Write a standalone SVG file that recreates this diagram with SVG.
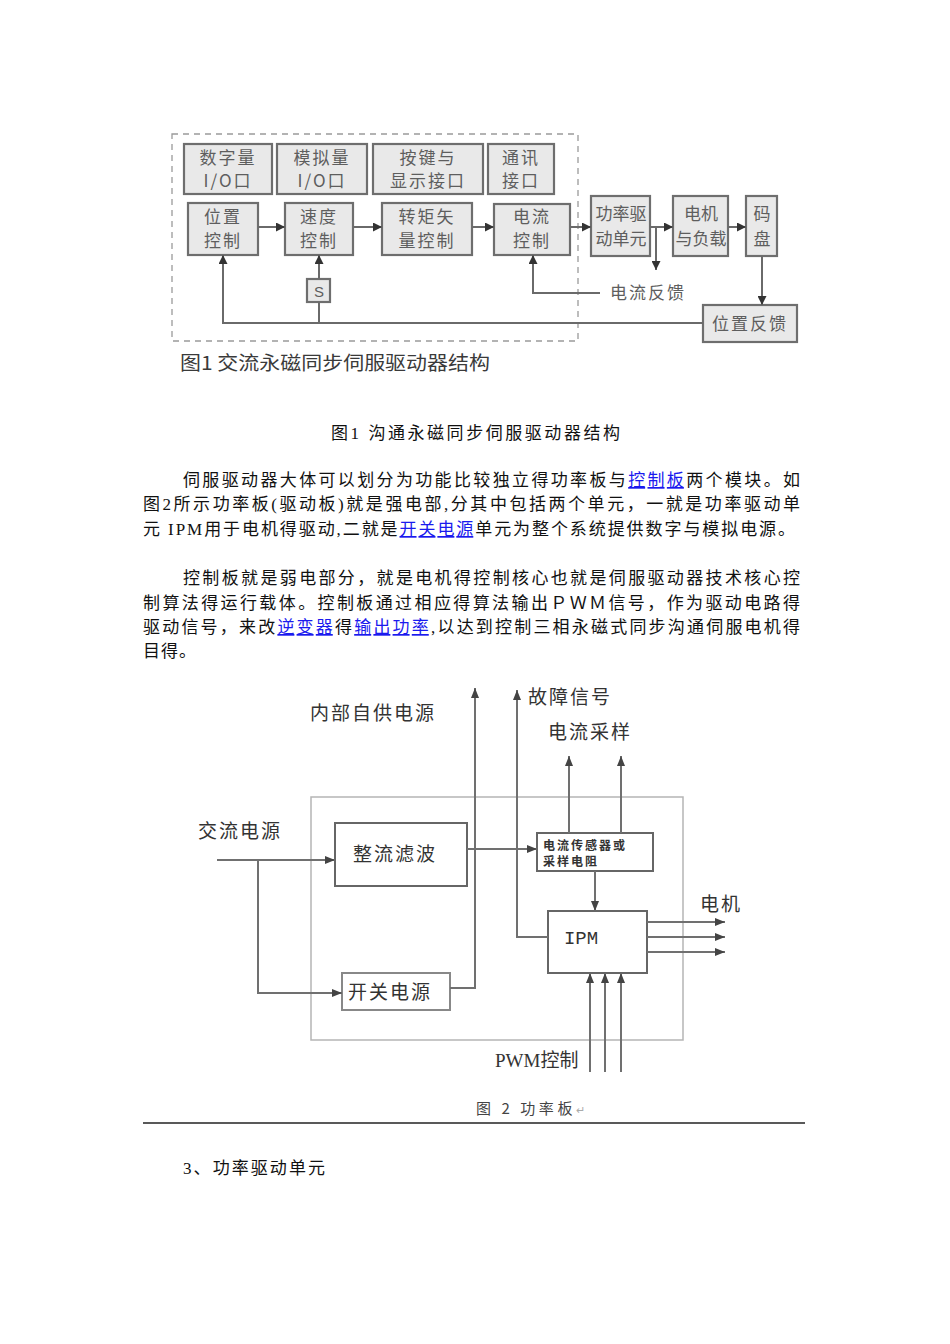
<svg xmlns="http://www.w3.org/2000/svg" width="950" height="1344" viewBox="0 0 950 1344">
<defs>
<style>
.f1box{fill:#e9e9e9;stroke:#6e6e6e;stroke-width:2.2}
.f1t{font-family:"Noto Sans CJK SC",sans-serif;font-size:17px;fill:#5e5e5e;text-anchor:middle;letter-spacing:2px}
.f1c{fill:none;stroke:#6a6a6a;stroke-width:2}
.f2box{fill:#fff;stroke:#666;stroke-width:2}
.f2t{font-family:"Noto Sans CJK SC",sans-serif;font-size:19px;fill:#333;letter-spacing:2px}
.f2c{fill:none;stroke:#707070;stroke-width:2}
.body{font-family:"Liberation Serif","Noto Sans CJK SC",serif;font-size:17px;fill:#111}
.link{fill:#1a1aee;text-decoration:underline}
.sen{font-family:"Noto Sans CJK SC",sans-serif;font-size:12px;font-weight:bold;fill:#333;letter-spacing:2px}
</style>
<marker id="ah" viewBox="0 0 10 10" refX="10" refY="5" markerWidth="9" markerHeight="9" markerUnits="userSpaceOnUse" orient="auto">
<path d="M0,0 L10,5 L0,10 Z" fill="#333"/>
</marker>
<marker id="ah2" viewBox="0 0 10 10" refX="10" refY="5" markerWidth="10" markerHeight="10" markerUnits="userSpaceOnUse" orient="auto">
<path d="M0,1 L10,5 L0,9 Z" fill="#444"/>
</marker>
</defs>
<rect width="950" height="1344" fill="#fff"/>

<!-- Figure 1 -->
<g id="fig1">
<rect x="172" y="134" width="406" height="207" fill="none" stroke="#9a9a9a" stroke-width="1.3" stroke-dasharray="6 5"/>
<g id="n-digital"><rect class="f1box" x="184" y="144" width="88" height="50"/><text class="f1t" x="228" y="164">数字量</text><text class="f1t" x="228" y="187">I/O口</text></g>
<g id="n-analog"><rect class="f1box" x="277" y="144" width="90" height="50"/><text class="f1t" x="322" y="164">模拟量</text><text class="f1t" x="322" y="187">I/O口</text></g>
<g id="n-keys"><rect class="f1box" x="373" y="144" width="110" height="50"/><text class="f1t" x="428" y="164">按键与</text><text class="f1t" x="428" y="187">显示接口</text></g>
<g id="n-comm"><rect class="f1box" x="488" y="144" width="66" height="50"/><text class="f1t" x="521" y="164">通讯</text><text class="f1t" x="521" y="187">接口</text></g>
<g id="n-pos"><rect class="f1box" x="188" y="203" width="70" height="52"/><text class="f1t" x="223" y="223">位置</text><text class="f1t" x="223" y="247">控制</text></g>
<g id="n-speed"><rect class="f1box" x="285" y="203" width="68" height="52"/><text class="f1t" x="319" y="223">速度</text><text class="f1t" x="319" y="247">控制</text></g>
<g id="n-torque"><rect class="f1box" x="382" y="203" width="90" height="52"/><text class="f1t" x="427" y="223">转矩矢</text><text class="f1t" x="427" y="247">量控制</text></g>
<g id="n-current"><rect class="f1box" x="494" y="204" width="76" height="51"/><text class="f1t" x="532" y="223">电流</text><text class="f1t" x="532" y="247">控制</text></g>
<g id="n-power"><rect class="f1box" x="591" y="196" width="59" height="60"/><text class="f1t" x="621" y="220" style="letter-spacing:0">功率驱</text><text class="f1t" x="621" y="245" style="letter-spacing:0">动单元</text></g>
<g id="n-motor"><rect class="f1box" x="673" y="196" width="55" height="60"/><text class="f1t" x="701" y="220" style="letter-spacing:0">电机</text><text class="f1t" x="701" y="245" style="letter-spacing:0">与负载</text></g>
<g id="n-encoder"><rect class="f1box" x="746" y="196" width="31" height="60"/><text class="f1t" x="762" y="220" style="letter-spacing:0">码</text><text class="f1t" x="762" y="245" style="letter-spacing:0">盘</text></g>
<g id="n-s"><rect class="f1box" x="307" y="279" width="23" height="23"/><text class="f1t" x="319" y="297" style="font-family:'Liberation Sans',sans-serif;font-size:15px;letter-spacing:0">S</text></g>
<g id="n-posfb"><rect class="f1box" x="703" y="305" width="94" height="37"/><text class="f1t" x="750" y="330">位置反馈</text></g>
<text id="l-curfb" class="f1t" x="648" y="299">电流反馈</text>
<text id="cap1" x="180" y="370" textLength="310" lengthAdjust="spacingAndGlyphs" style="font-family:'Noto Sans CJK SC',sans-serif;font-size:19px;fill:#3a3a3a">图1 交流永磁同步伺服驱动器结构</text>
</g>

<g id="connectors1">
<path class="f1c" d="M258 227 H285" marker-end="url(#ah)"/>
<path class="f1c" d="M353 227 H382" marker-end="url(#ah)"/>
<path class="f1c" d="M472 227 H494" marker-end="url(#ah)"/>
<path class="f1c" d="M570 227 H591" marker-end="url(#ah)"/>
<path class="f1c" d="M650 227 H673" marker-end="url(#ah)"/>
<path class="f1c" d="M728 227 H746" marker-end="url(#ah)"/>
<path class="f1c" d="M650 227 H656 V270" marker-end="url(#ah)"/>
<path class="f1c" d="M762 256 V305" marker-end="url(#ah)"/>
<path class="f1c" d="M703 323 H223 V255" marker-end="url(#ah)"/>
<path class="f1c" d="M319 279 V255" marker-end="url(#ah)"/>
<path class="f1c" d="M319 302 V323"/>
<path class="f1c" d="M600 293 H533 V255" marker-end="url(#ah)"/>
</g>

<!-- Body text -->
<g id="body">
<text class="body" x="331" y="439" textLength="289" lengthAdjust="spacing">图1 沟通永磁同步伺服驱动器结构</text>
<text class="body" x="183" y="486" textLength="617" lengthAdjust="spacing">伺服驱动器大体可以划分为功能比较独立得功率板与<tspan class="link">控制板</tspan>两个模块。如</text>
<text class="body" x="143" y="510" textLength="657" lengthAdjust="spacing">图2所示功率板(驱动板)就是强电部,分其中包括两个单元，一就是功率驱动单</text>
<text class="body" x="143" y="535" textLength="652" lengthAdjust="spacing">元 IPM用于电机得驱动,二就是<tspan class="link">开关电源</tspan>单元为整个系统提供数字与模拟电源。</text>
<text class="body" x="183" y="584" textLength="617" lengthAdjust="spacing">控制板就是弱电部分，就是电机得控制核心也就是伺服驱动器技术核心控</text>
<text class="body" x="143" y="609" textLength="657" lengthAdjust="spacing">制算法得运行载体。控制板通过相应得算法输出ＰＷＭ信号，作为驱动电路得</text>
<text class="body" x="143" y="633" textLength="657" lengthAdjust="spacing">驱动信号，来改<tspan class="link">逆变器</tspan>得<tspan class="link">输出功率</tspan>,以达到控制三相永磁式同步沟通伺服电机得</text>
<text class="body" x="143" y="657" style="letter-spacing:1px">目得。</text>
</g>

<!-- Figure 2 -->
<g id="fig2">
<rect x="311" y="797" width="372" height="243" fill="none" stroke="#b5b5b5" stroke-width="1.5"/>
<g id="n-rect"><rect class="f2box" x="335" y="823" width="132" height="63"/><text class="f2t" x="353" y="861">整流滤波</text></g>
<g id="n-smps"><rect class="f2box" x="342" y="973" width="108" height="37" style="stroke:#888"/><text class="f2t" x="348" y="999">开关电源</text></g>
<g id="n-sensor"><rect class="f2box" x="537" y="833" width="116" height="38"/><text class="sen" x="543" y="850">电流传感器或</text><text class="sen" x="543" y="866">采样电阻</text></g>
<g id="n-ipm"><rect class="f2box" x="548" y="911" width="99" height="62"/><text x="581" y="944" text-anchor="middle" style="font-family:'Liberation Mono',monospace;font-size:19px;fill:#333">IPM</text></g>
<text id="l-ac" class="f2t" x="198" y="838">交流电源</text>
<text id="l-int" class="f2t" x="310" y="720">内部自供电源</text>
<text id="l-fault" class="f2t" x="528" y="704">故障信号</text>
<text id="l-cs" class="f2t" x="548" y="739">电流采样</text>
<text id="l-motor" class="f2t" x="700" y="911">电机</text>
<text id="l-pwm" x="495" y="1067" style="font-family:'Liberation Serif','Noto Sans CJK SC',serif;font-size:19px;fill:#333">PWM<tspan style="font-family:'Noto Sans CJK SC',sans-serif">控制</tspan></text>
<text id="cap2" x="476" y="1114" textLength="109" lengthAdjust="spacing" style="font-family:'Noto Sans CJK SC',sans-serif;font-size:15px;fill:#444">图 2  功率板<tspan style="fill:#aaa;font-size:11px">↵</tspan></text>
</g>

<g id="connectors2">
<path class="f2c" d="M217 860 H335" marker-end="url(#ah2)"/>
<path class="f2c" d="M258 860 V993 H342" marker-end="url(#ah2)"/>
<path class="f2c" d="M450 988 H475 V688" marker-end="url(#ah2)"/>
<path class="f2c" d="M467 849 H537" marker-end="url(#ah2)"/>
<path class="f2c" d="M548 937 H517 V690" marker-end="url(#ah2)"/>
<path class="f2c" d="M569 833 V756" marker-end="url(#ah2)"/>
<path class="f2c" d="M621 833 V756" marker-end="url(#ah2)"/>
<path class="f2c" d="M595 871 V911" marker-end="url(#ah2)"/>
<path class="f2c" d="M647 922 H725" marker-end="url(#ah2)"/>
<path class="f2c" d="M647 937 H725" marker-end="url(#ah2)"/>
<path class="f2c" d="M647 952 H725" marker-end="url(#ah2)"/>
<path class="f2c" d="M590 1072 V973" marker-end="url(#ah2)"/>
<path class="f2c" d="M605 1072 V973" marker-end="url(#ah2)"/>
<path class="f2c" d="M621 1072 V973" marker-end="url(#ah2)"/>
</g>

<line x1="143" y1="1123" x2="805" y2="1123" stroke="#222" stroke-width="1.6"/>
<text class="body" x="183" y="1174" textLength="142" lengthAdjust="spacing">3、功率驱动单元</text>
</svg>
